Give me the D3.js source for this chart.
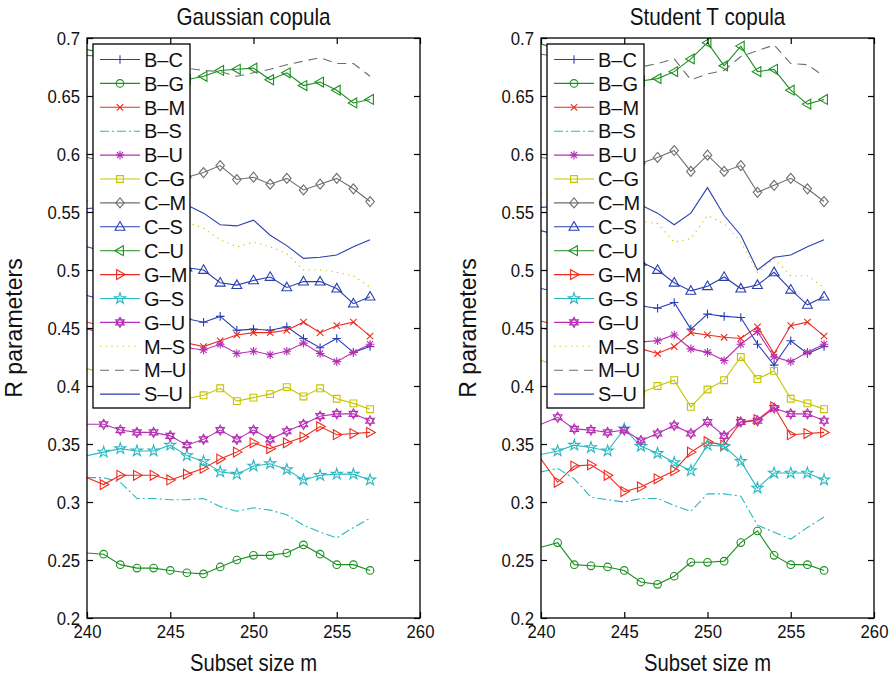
<!DOCTYPE html>
<html><head><meta charset="utf-8">
<script src="https://cdn.jsdelivr.net/npm/d3@7"></script>
<style>body{margin:0;background:#fff}svg{display:block}text{font-family:"Liberation Sans",Arial,sans-serif;fill:#111}</style>
</head><body>
<svg id="c" width="893" height="678"></svg>
<script>
const xValues = [240,241,242,243,244,245,246,247,248,249,250,251,252,253,254,255,256,257];
const seriesNames = ["B–C","B–G","B–M","B–S","B–U","C–G","C–M","C–S","C–U","G–M","G–S","G–U","M–S","M–U","S–U"];
const xTicks = [240,245,250,255,260];
const yTicks = [0.2,0.25,0.3,0.35,0.4,0.45,0.5,0.55,0.6,0.65,0.7];
const panelTitles = ["Gaussian copula","Student T copula"];

// Gaussian copula
const gBC = [0.478,0.474,0.470,0.466,0.463,0.460,0.458,0.455,0.460,0.448,0.449,0.448,0.451,0.441,0.433,0.441,0.429,0.434];
const gBG = [0.256,0.255,0.246,0.243,0.243,0.241,0.239,0.238,0.244,0.250,0.254,0.254,0.256,0.263,0.255,0.246,0.246,0.241];
const gBM = [0.455,0.452,0.448,0.445,0.442,0.440,0.437,0.434,0.439,0.444,0.446,0.446,0.448,0.455,0.446,0.452,0.455,0.443];
const gBS = [0.321,0.321,0.317,0.303,0.303,0.302,0.302,0.303,0.296,0.292,0.295,0.293,0.289,0.280,0.274,0.269,0.278,0.286];
const gBU = [0.449,0.446,0.443,0.440,0.437,0.435,0.433,0.431,0.436,0.428,0.430,0.427,0.430,0.437,0.428,0.421,0.429,0.436];
const gCG = [0.415,0.411,0.405,0.400,0.396,0.392,0.389,0.392,0.398,0.387,0.390,0.393,0.399,0.391,0.398,0.389,0.385,0.380];
const gCM = [0.597,0.594,0.591,0.588,0.585,0.582,0.580,0.584,0.590,0.578,0.580,0.574,0.579,0.569,0.574,0.579,0.570,0.559];
const gCS = [0.520,0.516,0.513,0.510,0.507,0.505,0.502,0.500,0.489,0.487,0.491,0.494,0.485,0.490,0.490,0.484,0.471,0.477];
const gCU = [0.690,0.687,0.683,0.679,0.675,0.671,0.664,0.667,0.672,0.673,0.674,0.664,0.670,0.659,0.662,0.655,0.644,0.647];
const gGM = [0.321,0.315,0.323,0.323,0.323,0.319,0.324,0.329,0.337,0.343,0.351,0.346,0.351,0.356,0.365,0.358,0.359,0.360];
const gGS = [0.340,0.343,0.346,0.344,0.344,0.349,0.340,0.335,0.326,0.324,0.331,0.333,0.328,0.319,0.323,0.324,0.324,0.319];
const gGU = [0.367,0.367,0.362,0.360,0.360,0.357,0.349,0.354,0.362,0.354,0.362,0.354,0.361,0.367,0.374,0.376,0.376,0.370];
const gMS = [0.560,0.557,0.553,0.550,0.547,0.544,0.541,0.536,0.526,0.520,0.524,0.520,0.514,0.500,0.500,0.498,0.495,0.485];
const gMU = [0.685,0.684,0.682,0.680,0.678,0.676,0.674,0.672,0.671,0.667,0.670,0.673,0.677,0.680,0.683,0.678,0.678,0.667];
const gSU = [0.553,0.554,0.555,0.556,0.556,0.557,0.556,0.549,0.539,0.538,0.543,0.530,0.521,0.510,0.511,0.513,0.520,0.526];

// Student T copula
const tBC = [0.484,0.481,0.478,0.475,0.473,0.471,0.469,0.467,0.472,0.449,0.462,0.460,0.459,0.436,0.418,0.439,0.428,0.434];
const tBG = [0.261,0.265,0.246,0.245,0.244,0.241,0.231,0.229,0.236,0.248,0.248,0.249,0.265,0.275,0.254,0.246,0.246,0.241];
const tBM = [0.456,0.452,0.448,0.444,0.440,0.436,0.432,0.428,0.434,0.446,0.444,0.442,0.441,0.451,0.428,0.452,0.455,0.443];
const tBS = [0.326,0.329,0.320,0.304,0.302,0.300,0.303,0.303,0.297,0.292,0.307,0.307,0.305,0.280,0.274,0.268,0.278,0.287];
const tBU = [0.450,0.447,0.444,0.441,0.440,0.439,0.438,0.439,0.444,0.432,0.429,0.422,0.436,0.447,0.425,0.421,0.429,0.436];
const tCG = [0.422,0.418,0.413,0.408,0.403,0.399,0.394,0.400,0.405,0.382,0.397,0.405,0.425,0.406,0.413,0.389,0.385,0.380];
const tCM = [0.597,0.595,0.593,0.592,0.590,0.590,0.592,0.597,0.603,0.585,0.599,0.585,0.590,0.567,0.573,0.579,0.570,0.559];
const tCS = [0.534,0.530,0.526,0.521,0.516,0.511,0.507,0.500,0.489,0.482,0.486,0.494,0.484,0.487,0.498,0.483,0.470,0.477];
const tCU = [0.695,0.690,0.685,0.680,0.675,0.670,0.663,0.665,0.671,0.682,0.696,0.676,0.693,0.671,0.673,0.655,0.643,0.647];
const tGM = [0.337,0.317,0.331,0.332,0.323,0.309,0.313,0.320,0.327,0.343,0.352,0.349,0.369,0.371,0.382,0.358,0.359,0.360];
const tGS = [0.341,0.344,0.349,0.347,0.344,0.363,0.348,0.342,0.334,0.327,0.349,0.348,0.335,0.312,0.325,0.325,0.325,0.319];
const tGU = [0.367,0.373,0.363,0.362,0.360,0.362,0.353,0.359,0.366,0.359,0.369,0.357,0.369,0.370,0.381,0.376,0.376,0.370];
const tMS = [0.566,0.562,0.558,0.554,0.550,0.546,0.542,0.540,0.524,0.527,0.547,0.540,0.524,0.498,0.510,0.495,0.495,0.485];
const tMU = [0.686,0.684,0.682,0.680,0.678,0.676,0.675,0.678,0.682,0.664,0.669,0.672,0.684,0.689,0.694,0.678,0.677,0.667];
const tSU = [0.554,0.555,0.556,0.556,0.556,0.556,0.556,0.549,0.539,0.549,0.571,0.547,0.530,0.500,0.511,0.513,0.520,0.526];

const gaussData = [gBC,gBG,gBM,gBS,gBU,gCG,gCM,gCS,gCU,gGM,gGS,gGU,gMS,gMU,gSU];
const studentData = [tBC,tBG,tBM,tBS,tBU,tCG,tCM,tCS,tCU,tGM,tGS,tGU,tMS,tMU,tSU];

// styles
const BLUE="#2a3fb0", GREEN="#1a8f1f", RED="#ee2a1e", CYAN="#2ab8bf", MAG="#b530b5", YEL="#c4c400", GRAY="#6e6e6e";
const styles = [
  {c:BLUE, m:"plus"}, {c:GREEN, m:"circle"}, {c:RED, m:"x"}, {c:CYAN, m:null, dash:"9,3,2,3"},
  {c:MAG, m:"asterisk"}, {c:YEL, m:"square"}, {c:GRAY, m:"diamond"}, {c:BLUE, m:"triUp"},
  {c:GREEN, m:"triLeft"}, {c:RED, m:"triRight"}, {c:CYAN, m:"pentagram"}, {c:MAG, m:"hexagram"},
  {c:YEL, m:null, dash:"1.2,4.5"}, {c:GRAY, m:null, dash:"9,6"}, {c:BLUE, m:null}
];

function markerPath(type){
  const s=4.3;
  switch(type){
    case "plus": return `M${-s},0H${s}M0,${-s}V${s}`;
    case "x": {const a=s*0.75; return `M${-a},${-a}L${a},${a}M${-a},${a}L${a},${-a}`;}
    case "asterisk": {const a=s*0.72; return `M${-s},0H${s}M0,${-s}V${s}M${-a},${-a}L${a},${a}M${-a},${a}L${a},${-a}`;}
    case "circle": {const r=3.8; return `M${r},0A${r},${r} 0 1,1 ${-r},0A${r},${r} 0 1,1 ${r},0Z`;}
    case "square": {const a=3.4; return `M${-a},${-a}H${a}V${a}H${-a}Z`;}
    case "diamond": {const a=5; return `M0,${-a}L${a*0.85},0L0,${a}L${-a*0.85},0Z`;}
    case "triUp": {const a=5.2; return `M0,${-a}L${a*0.95},${a*0.65}L${-a*0.95},${a*0.65}Z`;}
    case "triLeft": {const a=5.2; return `M${-a},0L${a*0.65},${-a*0.95}L${a*0.65},${a*0.95}Z`;}
    case "triRight": {const a=5.2; return `M${a},0L${-a*0.65},${-a*0.95}L${-a*0.65},${a*0.95}Z`;}
    case "pentagram": return d3.symbol(d3.symbolStar, 38)();
    case "hexagram": {const a=5; const p=[];
      for(let k=0;k<2;k++){ const off=k?Math.PI:0; const pts=[0,1,2].map(j=>{const t=off-Math.PI/2+j*2*Math.PI/3; return [a*Math.cos(t),a*Math.sin(t)];});
        p.push(`M${pts[0]}L${pts[1]}L${pts[2]}Z`);} return p.join("");}
  }
  return "";
}

const svg = d3.select("#c");
const yTop=38, yBot=618;
const panels = [{x0:87,x1:420,data:gaussData,title:panelTitles[0]},{x0:541,x1:874,data:studentData,title:panelTitles[1]}];
const fmt = v => (Math.round(v*100)/100).toString();

function label(g, x, y, txt, size, sx, anchor){
  return g.append("text").attr("transform",`translate(${x},${y}) scale(${sx},1)`)
    .attr("text-anchor",anchor||"middle").attr("font-size",size).text(txt);
}

panels.forEach(p=>{
  const x = d3.scaleLinear().domain([240,260]).range([p.x0,p.x1]);
  const y = d3.scaleLinear().domain([0.2,0.7]).range([yBot,yTop]);
  const g = svg.append("g");

  const line = d3.line().x((d,i)=>x(xValues[i])).y(d=>y(d));
  const clipId = "clip"+p.x0;
  svg.append("clipPath").attr("id",clipId).append("rect").attr("x",p.x0).attr("y",yTop).attr("width",p.x1-p.x0).attr("height",yBot-yTop);
  const plot = g.append("g").attr("clip-path",`url(#${clipId})`);
  p.data.forEach((arr,si)=>{
    const st=styles[si];
    plot.append("path").attr("d",line(arr)).attr("fill","none").attr("stroke",st.c).attr("stroke-width",1.1)
      .attr("stroke-dasharray",st.dash||null);
    if(st.m){
      plot.selectAll(null).data(arr.slice(1)).enter().append("path")
        .attr("transform",(d,i)=>`translate(${x(xValues[i+1])},${y(d)})`)
        .attr("d",markerPath(st.m)).attr("fill","none").attr("stroke",st.c).attr("stroke-width",1.1);
    }
  });

  const axB = d3.axisBottom(x).tickValues(xTicks).tickSize(-6).tickPadding(10).tickFormat(d3.format("d"));
  const axT = d3.axisTop(x).tickValues(xTicks).tickSize(-6).tickFormat("");
  const axL = d3.axisLeft(y).tickValues(yTicks).tickSize(-6).tickPadding(9).tickFormat(fmt);
  const axR = d3.axisRight(y).tickValues(yTicks).tickSize(-6).tickFormat("");
  const gb = g.append("g").attr("transform",`translate(0,${yBot})`).call(axB);
  const gt = g.append("g").attr("transform",`translate(0,${yTop})`).call(axT);
  const gl = g.append("g").attr("transform",`translate(${p.x0},0)`).call(axL);
  const gr = g.append("g").attr("transform",`translate(${p.x1},0)`).call(axR);
  [gb,gt,gl,gr].forEach(a=>{a.select(".domain").remove(); a.selectAll("line").attr("stroke","#000").attr("stroke-width",1.2);});
  gb.selectAll("text").attr("font-size",19).attr("fill","#111").attr("font-family","Liberation Sans, Arial, sans-serif")
    .attr("dy","0.55em").attr("transform","scale(0.88,1)");
  gl.selectAll("text").attr("font-size",19).attr("fill","#111").attr("font-family","Liberation Sans, Arial, sans-serif")
    .attr("x",-8).attr("transform","scale(0.88,1)");
  g.append("rect").attr("x",p.x0).attr("y",yTop).attr("width",p.x1-p.x0).attr("height",yBot-yTop)
    .attr("fill","none").attr("stroke","#000").attr("stroke-width",1.3);

  const cx=(p.x0+p.x1)/2;
  label(g, cx, 25, p.title, 23, 0.9);
  label(g, cx, 671, "Subset size m", 23, 0.88);
  g.append("text").attr("transform",`translate(${p.x0-65},${(yTop+yBot)/2}) rotate(-90)`)
    .attr("text-anchor","middle").attr("font-size",23).text("R parameters");

  // legend
  const lx=p.x0+6, ly=44, lw=97, lh=364;
  const lg = g.append("g");
  lg.append("rect").attr("x",lx).attr("y",ly).attr("width",lw).attr("height",lh).attr("fill","#fff").attr("stroke","#000").attr("stroke-width",1.3);
  seriesNames.forEach((name,i)=>{
    const st=styles[i]; const yy = 59.5 + i*23.9;
    lg.append("line").attr("x1",lx+7).attr("x2",lx+47).attr("y1",yy).attr("y2",yy).attr("stroke",st.c).attr("stroke-width",1.1).attr("stroke-dasharray",st.dash||null);
    if(st.m) lg.append("path").attr("transform",`translate(${lx+27},${yy})`).attr("d",markerPath(st.m)).attr("fill","none").attr("stroke",st.c).attr("stroke-width",1.1);
    lg.append("text").attr("x",lx+51).attr("y",yy).attr("dy","0.36em").attr("font-size",20).text(name);
  });
});
</script>
</body></html>
